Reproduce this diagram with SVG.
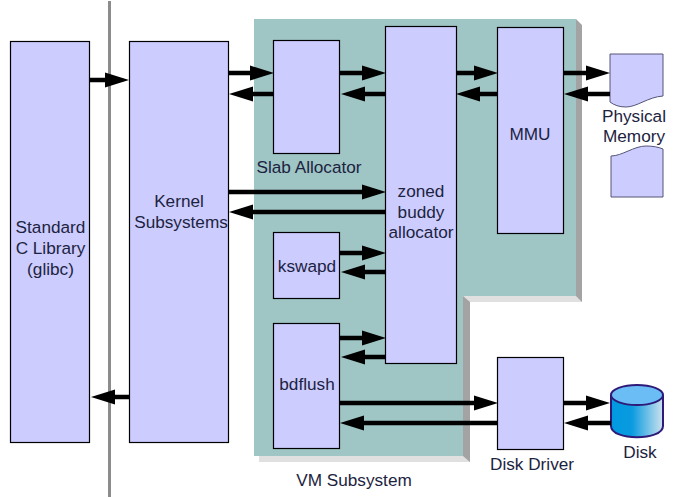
<svg xmlns="http://www.w3.org/2000/svg" width="676" height="497" viewBox="0 0 676 497">
<style>
text{font-family:"Liberation Sans",Arial,sans-serif;font-size:17.2px;fill:#1c2340;text-anchor:middle}
.b{fill:#ccccff;stroke:#000;stroke-width:1.2}
.c{stroke:#000;stroke-width:4.5;fill:none}
.s{fill:#ccccff;stroke:#555577;stroke-width:1}
</style>
<defs>
<linearGradient id="dg" x1="0" x2="1" y1="0" y2="0"><stop offset="0" stop-color="#0099e0"/><stop offset=".4" stop-color="#0a9be0"/><stop offset="1" stop-color="#cde2ee"/></linearGradient>
<polygon id="r" points="0,-7.500 24,0 0,7.500"/>
<polygon id="l" points="0,-7.500 -24,0 0,7.500"/>
</defs>
<g id="vm-subsystem">
<path d="M259,25 H582 V302 H470 V462 H259Z" fill="#e0e0e0"/>
<path d="M576,19 L582,25 V302 L576,296Z M463,296 L470,302 V462 L463,456Z" fill="#a3a3a3"/>
<path d="M254,19 H576 V296 H463 V456 H254Z" fill="#9fc5c5"/>
<text x="354" y="486">VM Subsystem</text>
</g>
<line x1="109.500" y1="1" x2="109.500" y2="497" stroke="#8c8c8c" stroke-width="3"/>
<g id="glibc"><rect class="b" x="10.500" y="41.500" width="79" height="401"/><text x="50.500" y="233">Standard</text><text x="50.500" y="254">C Library</text><text x="50.500" y="275">(glibc)</text></g>
<g id="kernel"><rect class="b" x="129.500" y="41.500" width="99" height="401"/><text x="179" y="207">Kernel</text><text x="181" y="228">Subsystems</text></g>
<g id="slab"><rect class="b" x="273.500" y="40.500" width="66" height="113"/><text x="309" y="173">Slab Allocator</text></g>
<g id="buddy"><rect class="b" x="385.500" y="26.500" width="71" height="337"/><text x="421" y="197">zoned</text><text x="421" y="218">buddy</text><text x="421" y="238">allocator</text></g>
<g id="mmu"><rect class="b" x="497.500" y="27.500" width="66" height="206"/><text x="530" y="140">MMU</text></g>
<g id="kswapd"><rect class="b" x="273.500" y="232.500" width="66" height="66"/><text x="307" y="272">kswapd</text></g>
<g id="bdflush"><rect class="b" x="273.500" y="323.500" width="66" height="125"/><text x="307" y="390">bdflush</text></g>
<g id="disk-driver"><rect class="b" x="497.500" y="357.500" width="66" height="92"/><text x="532" y="470">Disk Driver</text></g>
<g id="physical-memory">
<path class="s" d="M610,54 H663 V96 C648,97 637,107 626,107 C619,107 614,105 610,102Z"/>
<path class="s" d="M611,156 C622,156 634,146 646,146 C653,146 658,147 663,149 V197 H611Z"/>
<text x="634" y="122">Physical</text><text x="634" y="142">Memory</text>
</g>
<g id="disk">
<path d="M611,396 V426 C611,441 663,441 663,426 V396Z" fill="url(#dg)" stroke="#2e1a78" stroke-width="2"/>
<ellipse cx="637" cy="395" rx="26" ry="10" fill="#6bbef5" stroke="#2e1a78" stroke-width="2"/>
<text x="640" y="458">Disk</text>
</g>
<g id="connectors" fill="#000">
<path class="c" d="M90,80H106M229,73H250M252,94H274M340,73H362M364,94H386M457,73H474M478,94H498M564,73H586M586,94H610M229,192H362M252,212H386M340,253H362M364,272H386M340,338H362M364,357H386M340,403H474M362,423H498M564,403H586M586,423H611M130,397H114"/>
<use href="#r" x="105" y="80"/><use href="#r" x="250" y="73"/><use href="#l" x="253" y="94"/>
<use href="#r" x="362" y="73"/><use href="#l" x="365" y="94"/><use href="#r" x="474" y="73"/><use href="#l" x="480" y="94"/>
<use href="#r" x="586" y="73"/><use href="#l" x="588" y="94"/>
<use href="#r" x="362" y="192"/><use href="#l" x="253" y="212"/>
<use href="#r" x="362" y="253"/><use href="#l" x="365" y="272"/>
<use href="#r" x="362" y="338"/><use href="#l" x="365" y="357"/>
<use href="#r" x="474" y="403"/><use href="#l" x="364" y="423"/>
<use href="#r" x="586" y="403"/><use href="#l" x="588" y="423"/>
<use href="#l" x="115" y="397"/>
</g>
</svg>
